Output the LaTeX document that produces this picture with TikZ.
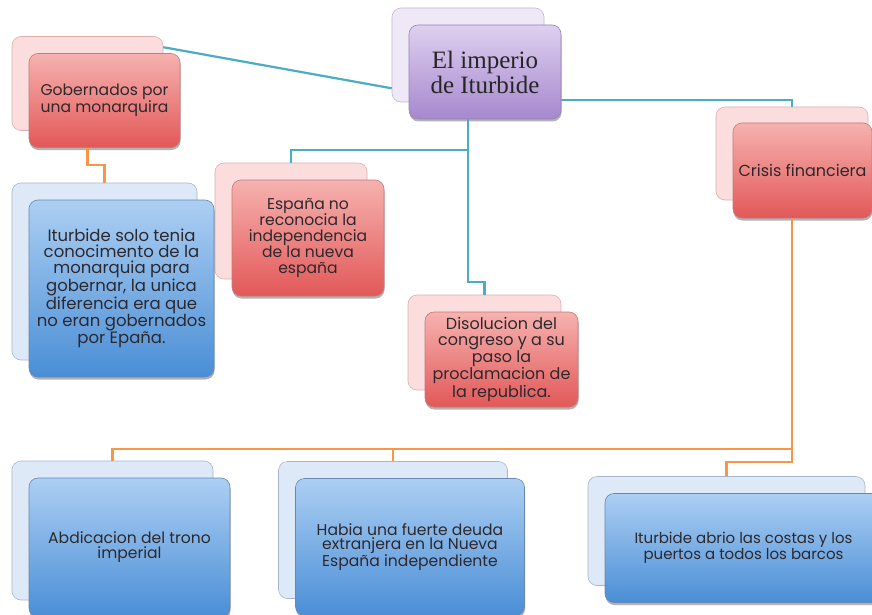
\documentclass[tikz,border=0pt]{standalone}
\usepackage{fontspec}
\setmainfont{Poppins}
\newfontfamily\titlefont{Liberation Serif}
\usetikzlibrary{shadows}

\definecolor{linkteal}{RGB}{75,172,198}
\definecolor{linkorange}{RGB}{247,150,70}
\definecolor{textgray}{RGB}{45,40,45}
\definecolor{redA}{RGB}{246,178,175}
\definecolor{redB}{RGB}{226,88,88}
\definecolor{redpale}{RGB}{251,221,221}
\definecolor{rededge}{RGB}{200,120,120}
\definecolor{blueA}{RGB}{172,207,243}
\definecolor{blueB}{RGB}{74,142,214}
\definecolor{bluepale}{RGB}{221,233,247}
\definecolor{blueedge}{RGB}{105,135,175}
\definecolor{purA}{RGB}{222,208,239}
\definecolor{purB}{RGB}{166,136,206}
\definecolor{purpale}{RGB}{239,233,247}
\definecolor{puredge}{RGB}{150,130,180}

\tikzset{
  back/.style={rounded corners=9pt, line width=0.6pt, inner sep=0pt},
  card/.style={rounded corners=9pt, line width=0.6pt, align=center,
    text=textgray, inner sep=2pt,
    drop shadow={shadow xshift=0.5pt, shadow yshift=-2.5pt,
      opacity=0.3, fill=black}},
  redback/.style={back, draw=rededge!60, fill=redpale},
  redcard/.style={card, draw=rededge, top color=redA, bottom color=redB},
  blueback/.style={back, draw=blueedge!60, fill=bluepale},
  bluecard/.style={card, draw=blueedge, top color=blueA, bottom color=blueB},
  purback/.style={back, draw=puredge!60, fill=purpale},
  purcard/.style={card, draw=puredge, top color=purA, bottom color=purB},
  link/.style={line width=2.2pt, linkteal},
  sublink/.style={line width=2.2pt, linkorange},
  fs/.style 2 args={font=\fontsize{#1}{#2}\selectfont}
}

\begin{document}
\begin{tikzpicture}[x=1pt,y=-1pt]

  \def\dx{17}

  \fill[white] (0,0) rectangle (872,615);
  \useasboundingbox (0,0) rectangle (872,615);

  % title
  \node[purback, minimum width=152pt, minimum height=94pt] (titleB) at (468,55) {};
  \node[purcard, minimum width=152pt, minimum height=94pt,
    font=\titlefont\fontsize{25}{25}\selectfont, text=black!85]
    (title) at ([shift={(\dx,\dx)}]titleB) {El imperio\\de Iturbide};

  % first level
  \node[redback, minimum width=151pt, minimum height=94pt] (gobB) at (87.5,83.5) {};
  \node[redcard, minimum width=151pt, minimum height=94pt, fs={15.6}{17}]
    (gob) at ([shift={(\dx,\dx)}]gobB) {Gobernados por\\una monarquira};

  \node[redback, minimum width=152pt, minimum height=116pt] (espB) at (291,221) {};
  \node[redcard, minimum width=152pt, minimum height=116pt, fs={15.6}{16}]
    (esp) at ([shift={(\dx,\dx)}]espB)
    {España no\\reconocia la\\independencia\\de la nueva\\españa};

  \node[redback, minimum width=153pt, minimum height=95pt] (disB) at (484.5,342.5) {};
  \node[redcard, minimum width=153pt, minimum height=95pt, fs={16}{15.7}]
    (dis) at ([shift={(\dx,\dx)}]disB)
    {Disolucion del\\congreso y a su\\paso la\\proclamacion de\\la republica.};

  \node[redback, minimum width=152pt, minimum height=93pt] (criB) at (792,153.5) {};
  \node[redcard, minimum width=139pt, minimum height=95pt, fs={16}{17}]
    (cri) at ([shift={(\dx-6.5,\dx)}]criB) {Crisis financiera};

  % second level
  \node[blueback, minimum width=185pt, minimum height=177pt] (solB) at (104.5,271.5) {};
  \node[bluecard, minimum width=185pt, minimum height=177pt, fs={16.5}{16}]
    (sol) at ([shift={(\dx,\dx)}]solB)
    {Iturbide solo tenia\\conocimento de la\\monarquia para\\gobernar, la unica\\diferencia era que\\no eran gobernados\\por Epaña.};

  \node[blueback, minimum width=201pt, minimum height=139pt] (abdB) at (112.5,530.5) {};
  \node[bluecard, minimum width=201pt, minimum height=139pt, fs={15.6}{15}]
    (abd) at ([shift={(\dx,\dx)}]abdB) {Abdicacion del trono\\imperial};

  \node[blueback, minimum width=229pt, minimum height=137pt] (habB) at (393,530) {};
  \node[bluecard, minimum width=229pt, minimum height=137pt, fs={15.6}{14.5}]
    (hab) at ([shift={(\dx,\dx)}]habB)
    {Habia una fuerte deuda\\extranjera en la Nueva\\España independiente};

  \node[blueback, minimum width=277pt, minimum height=109pt] (abrB) at (726.5,531) {};
  \node[bluecard, minimum width=277pt, minimum height=109pt, fs={15}{14.5}]
    (abr) at ([shift={(\dx,\dx)}]abrB)
    {Iturbide abrio las costas y los\\puertos a todos los barcos};

  % links from the title
  \draw[link] ([yshift=14pt]titleB.south west) -- ([yshift=-11pt]gobB.north east);
  \draw[link] ([yshift=-28pt]title.east) -| (criB.north);
  \draw[link] (title.south -| titleB) |- ([yshift=13pt]espB.north) -- (espB.north);
  \draw[link] (title.south -| titleB) |- ([yshift=13pt]disB.north) -- (disB.north);

  % links to second level
  \draw[sublink] (gob.south -| gobB) |- ([yshift=18pt]solB.north) -- (solB.north);
  \coordinate (bus) at ([yshift=12pt]abdB.north -| criB);
  \draw[sublink] (cri.south -| criB) |- ([yshift=14pt]abrB.north) -- (abrB.north);
  \draw[sublink] (bus) -| (abdB.north);
  \draw[sublink] (bus) -| (habB.north);
\end{tikzpicture}
\end{document}
